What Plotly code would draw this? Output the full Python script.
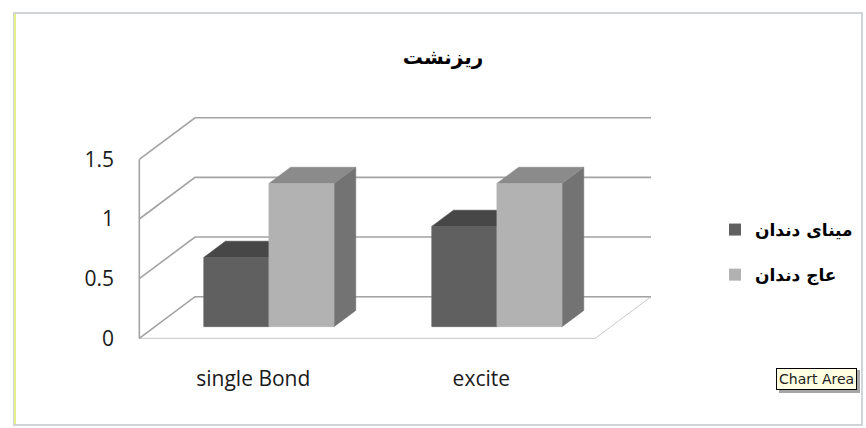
import plotly.graph_objects as go

# ---------------- data ----------------
title_text = "ریزنشت"
categories = ["single Bond", "excite"]
series_names = ["مینای دندان", "عاج دندان"]
enamel_values = [0.58, 0.84]
dentin_values = [1.2, 1.2]
y_ticks = [0, 0.5, 1, 1.5]
y_tick_labels = ["0", "0.5", "1", "1.5"]

series_values = [enamel_values, dentin_values]
front_colors = ["#606060", "#b2b2b2"]
top_colors = ["#474747", "#8b8b8b"]
side_colors = ["#4a4a4a", "#737373"]

# ---------------- geometry (oblique projection) ----------------
W, H = 866, 428
L_M, R_M, T_M, B_M = 132, 206, 100, 83
PX_X = 228.0      # pixels per category
PX_Y = 119.3      # pixels per unit value
X0_PX, Y0_PX = 139.3, 338.3
DX = 55.7 / PX_X  # depth offset (x units) for full depth
DY = 41.6 / PX_Y  # depth offset (y units) for full depth
ymax_wall = y_ticks[-1]
ncat = len(categories)

x_range = [(L_M - X0_PX) / PX_X, (W - R_M - X0_PX) / PX_X]
y_range = [(Y0_PX - (H - B_M)) / PX_Y, (Y0_PX - T_M) / PX_Y]
plot_w = W - L_M - R_M
plot_h = H - T_M - B_M


def P(x, y, d):
    return x + d * DX, y + d * DY


def px2paper_x(px):
    return (px - L_M) / plot_w


def py2paper_y(py):
    return (H - B_M - py) / plot_h


fig = go.Figure()
GRID = "#a3a3a3"


def line(pts, color=GRID, width=1.6):
    xs = [p[0] for p in pts]
    ys = [p[1] for p in pts]
    fig.add_trace(go.Scatter(x=xs, y=ys, mode="lines",
                             line=dict(color=color, width=width),
                             hoverinfo="skip", showlegend=False))


def poly(pts, color, edge=None):
    xs = [p[0] for p in pts] + [pts[0][0]]
    ys = [p[1] for p in pts] + [pts[0][1]]
    fig.add_trace(go.Scatter(x=xs, y=ys, mode="lines", fill="toself",
                             fillcolor=color,
                             line=dict(color=edge or color, width=0.6),
                             hoverinfo="skip", showlegend=False))


# floor
poly([P(0, 0, 0), P(ncat, 0, 0), P(ncat, 0, 1), P(0, 0, 1)], "white", GRID)
# back wall gridlines + side wall diagonals
for v in y_ticks:
    line([P(0, v, 0), P(0, v, 1), P(ncat, v, 1)])
# front vertical edge of side wall
line([P(0, 0, 0), P(0, ymax_wall, 0)])

# bars
bw = 1 / 3.5
gap = (1 - 2 * bw) / 2
d0, d1 = 0.28, 0.67
for i in range(ncat):
    for s, vals in enumerate(series_values):
        h = vals[i]
        xa = i + gap + s * bw
        xb = xa + bw
        poly([P(xb, 0, d0), P(xb, 0, d1), P(xb, h, d1), P(xb, h, d0)], side_colors[s])
        poly([P(xa, h, d0), P(xb, h, d0), P(xb, h, d1), P(xa, h, d1)], top_colors[s])
        poly([P(xa, 0, d0), P(xb, 0, d0), P(xb, h, d0), P(xa, h, d0)], front_colors[s])

# legend entries
for s, name in enumerate(series_names):
    fig.add_trace(go.Scatter(x=[None], y=[None], mode="markers", name=name,
                             marker=dict(symbol="square", size=11, color=front_colors[s]),
                             legendgroup=name))

TEXT = "#1a1a1a"
fig.update_layout(
    template="none",
    width=W, height=H,
    margin=dict(l=L_M, r=R_M, t=T_M, b=B_M, autoexpand=False),
    paper_bgcolor="white", plot_bgcolor="white",
    title=dict(text=title_text, x=443 / W, xanchor="center",
               y=1 - 57 / H, yanchor="middle",
               font=dict(family="DejaVu Sans", size=20, color="#000000", weight="bold")),
    xaxis=dict(range=x_range, tickvals=[i + 0.5 for i in range(ncat)], ticktext=categories,
               showgrid=False, zeroline=False, showline=False, ticks="", automargin=False,
               ticklabelstandoff=19,
               tickfont=dict(family="Open Sans", size=21, color=TEXT), fixedrange=True),
    yaxis=dict(range=y_range, tickvals=y_ticks, ticktext=y_tick_labels,
               showgrid=False, zeroline=False, showline=False, ticks="", automargin=False,
               ticklabelstandoff=17,
               tickfont=dict(family="Open Sans", size=21, color=TEXT), fixedrange=True),
    legend=dict(x=px2paper_x(715), xanchor="left", y=py2paper_y(212), yanchor="top",
                font=dict(family="DejaVu Sans", size=17, color="#000000", weight="bold"),
                traceorder="grouped", tracegroupgap=20, itemsizing="constant",
                bgcolor="rgba(0,0,0,0)", borderwidth=0),
    showlegend=True,
    hovermode=False,
)

# chart-area frame
fig.add_shape(type="rect", xref="paper", yref="paper",
              x0=px2paper_x(14), x1=px2paper_x(862), y0=py2paper_y(425), y1=py2paper_y(13),
              line=dict(color="#c4c8cc", width=1.5), layer="below")
fig.add_shape(type="line", xref="paper", yref="paper",
              x0=px2paper_x(15), x1=px2paper_x(15), y0=py2paper_y(424), y1=py2paper_y(14),
              line=dict(color="#e4f08a", width=2), layer="below")

# tooltip
fig.add_shape(type="rect", xref="paper", yref="paper",
              x0=px2paper_x(779), x1=px2paper_x(860), y0=py2paper_y(393), y1=py2paper_y(370),
              line=dict(width=0), fillcolor="rgba(0,0,0,0.35)", layer="above")
fig.add_annotation(text="Chart Area", xref="paper", yref="paper",
                   x=px2paper_x(816.5), y=py2paper_y(378.5), xanchor="center", yanchor="middle",
                   showarrow=False, bgcolor="#ffffe1", bordercolor="#000000", borderwidth=1,
                   borderpad=2, font=dict(family="DejaVu Sans", size=14, color="#222222"))

fig.write_html("out.html", config={"displayModeBar": False},
               post_script="document.body.style.margin='0';document.body.style.overflow='hidden';")
